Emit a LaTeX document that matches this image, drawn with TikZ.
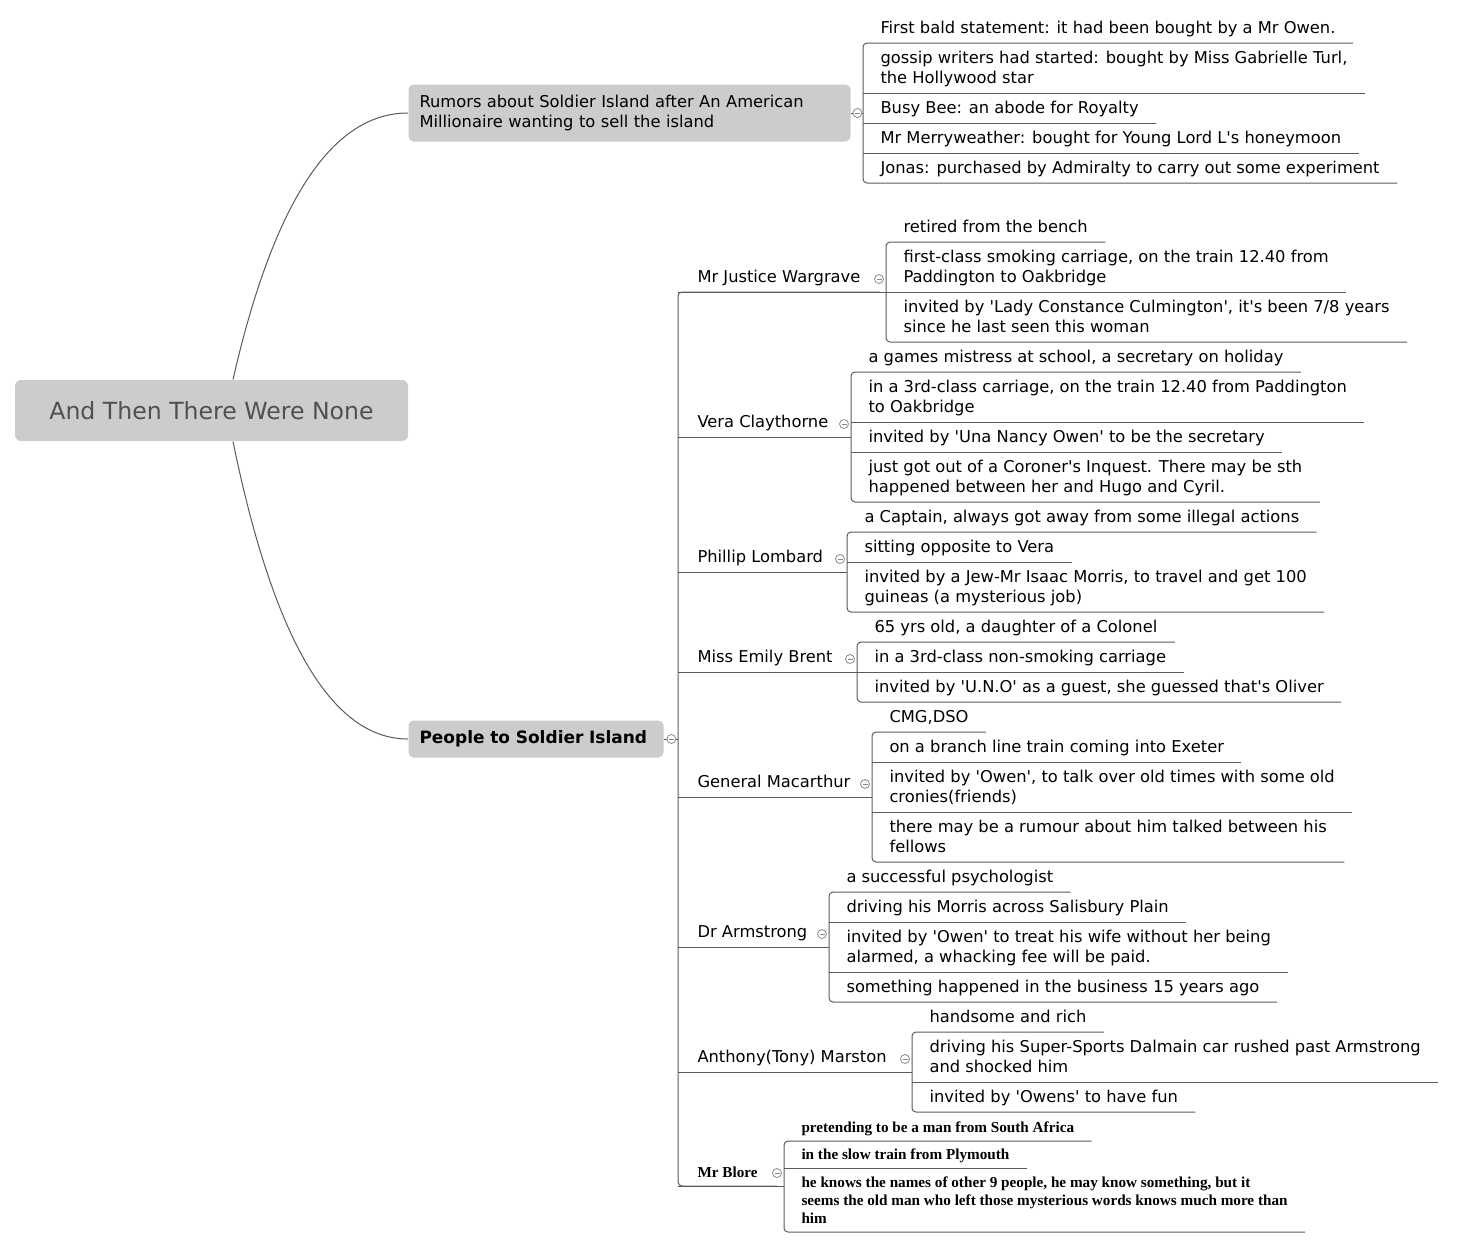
\documentclass[tikz,border=0pt]{standalone}
\usepackage{fontspec}
\newfontfamily\mapfont{DejaVu Sans}
\newfontfamily\blorefont{Liberation Serif}
\usetikzlibrary{positioning}
\definecolor{boxgray}{HTML}{CCCCCC}
\definecolor{linegray}{HTML}{5A5A5A}
\definecolor{togglegray}{HTML}{8A8A8A}
\definecolor{roottext}{HTML}{505050}
\newcommand\mapsize{\mapfont\fontsize{16.3}{20}\selectfont}

\begin{document}
\begin{tikzpicture}[x=1pt,y=-1pt,line width=1pt,
root/.style={fill=boxgray,rounded corners=6pt,text=roottext,minimum width=393pt,minimum height=61pt,
    font=\mapfont\fontsize{23.6}{28}\selectfont},
topic/.style={fill=boxgray,rounded corners=5pt,anchor=west,align=left,inner xsep=11pt,font=\mapsize},
sub/.style={anchor=south west,inner xsep=19pt,inner ysep=4pt,text depth=5.5pt,font=\mapsize},
item/.style={anchor=south west,align=left,inner xsep=17pt,inner ysep=4pt,text depth=5.5pt,font=\mapsize},
blore/.style={item,text depth=4.5pt,font=\blorefont\bfseries\fontsize{15.2}{18}\selectfont},
tog/.style={circle,draw=togglegray,fill=white,line width=0.8pt,minimum size=9pt,inner sep=0pt,
    path picture={\draw[togglegray,line width=0.8pt] ([xshift=2pt]path picture bounding box.west)
    -- ([xshift=-2pt]path picture bounding box.east);}},
link/.style={draw=linegray}]
\useasboundingbox (0,0) rectangle (1458,1248);

% central topic and main branches
\node (root) [root] at (211.5,410.5) {And Then There Were None};
\node (rum) [topic,text width=420pt,minimum height=57pt] at (408,113)
    {Rumors about Soldier Island after An American\\Millionaire wanting to sell the island};
\node (ppl) [topic,text width=233pt,minimum height=37pt,font=\mapfont\fontsize{17}{20}\selectfont\bfseries] at (408,739)
    {People to Soldier Island};
\node (rc) [tog,right=1.5pt of rum] {};
\node (pc) [tog,right=2.5pt of ppl] {};
\draw[link] ([xshift=21.5pt]root.north) .. controls +(40.7,-178) and +(-76,0) .. (rum.west);
\draw[link] ([xshift=21.5pt]root.south) .. controls +(40.7,198.7) and +(-76,0) .. (ppl.west);

% rumors
\node (ru1) [item] at (863,43) {First bald statement: it had been bought by a Mr Owen.};
\node (ru2) [item] at (863,93) {gossip writers had started: bought by Miss Gabrielle Turl,\\the Hollywood star};
\node (ru3) [item] at (863,123) {Busy Bee: an abode for Royalty};
\node (ru4) [item] at (863,153) {Mr Merryweather: bought for Young Lord L's honeymoon};
\node (ru5) [item] at (863,183) {Jonas: purchased by Admiralty to carry out some experiment};
\draw[link] (rum.east) -- (rc.west);
\draw[link] (rc.east) -- (rc.east -| ru1.south west);
\draw[link,rounded corners=4pt] (ru1.south east) -- (ru1.south west) -- (ru5.south west) -- (ru5.south east);
\draw[link] (ru2.south west) -- (ru2.south east);
\draw[link] (ru3.south west) -- (ru3.south east);
\draw[link] (ru4.south west) -- (ru4.south east);

% people
\node (wg) [sub] at (678,292) {Mr Justice Wargrave};
\node (vc) [sub] at (678,437) {Vera Claythorne};
\node (pl) [sub] at (678,572) {Phillip Lombard};
\node (eb) [sub] at (678,672) {Miss Emily Brent};
\node (gm) [sub] at (678,797) {General Macarthur};
\node (da) [sub] at (678,947) {Dr Armstrong};
\node (am) [sub] at (678,1072) {Anthony(Tony) Marston};
\node (bl) [sub,text depth=4.5pt,font=\blorefont\bfseries\fontsize{15.2}{18}\selectfont] at (678,1186) {Mr Blore};
\draw[link] (ppl.east) -- (pc.west);
\draw[link] (pc.east) -- (pc.east -| wg.south west);
\draw[link,rounded corners=4pt] (wg.south east) -- (wg.south west) -- (bl.south west) -- (bl.south east);

% Wargrave
\node (wg1) [item] at (886,242) {retired from the bench};
\node (wg2) [item] at (886,292) {first-class smoking carriage, on the train 12.40 from\\Paddington to Oakbridge};
\node (wg3) [item] at (886,342) {invited by 'Lady Constance Culmington', it's been 7/8 years\\since he last seen this woman};
\node (wgc) [tog] at (879,279) {};
\draw[link] (wg.south west) -- (wg.south west -| wg1.south west);
\draw[link,rounded corners=4pt] (wg1.south east) -- (wg1.south west) -- (wg3.south west) -- (wg3.south east);
\draw[link] (wg2.south west) -- (wg2.south east);

% Vera
\node (vc1) [item] at (851,372) {a games mistress at school, a secretary on holiday};
\node (vc2) [item] at (851,422) {in a 3rd-class carriage, on the train 12.40 from Paddington\\to Oakbridge};
\node (vc3) [item] at (851,452) {invited by 'Una Nancy Owen' to be the secretary};
\node (vc4) [item] at (851,502) {just got out of a Coroner's Inquest. There may be sth\\happened between her and Hugo and Cyril.};
\node (vcc) [tog] at (844,424) {};
\draw[link] (vc.south west) -- (vc.south west -| vc1.south west);
\draw[link,rounded corners=4pt] (vc1.south east) -- (vc1.south west) -- (vc4.south west) -- (vc4.south east);
\draw[link] (vc2.south west) -- (vc2.south east);
\draw[link] (vc3.south west) -- (vc3.south east);

% Lombard
\node (pl1) [item] at (847,532) {a Captain, always got away from some illegal actions};
\node (pl2) [item] at (847,562) {sitting opposite to Vera};
\node (pl3) [item] at (847,612) {invited by a Jew-Mr Isaac Morris, to travel and get 100\\guineas (a mysterious job)};
\node (plc) [tog] at (840,559) {};
\draw[link] (pl.south west) -- (pl.south west -| pl1.south west);
\draw[link,rounded corners=4pt] (pl1.south east) -- (pl1.south west) -- (pl3.south west) -- (pl3.south east);
\draw[link] (pl2.south west) -- (pl2.south east);

% Brent
\node (eb1) [item] at (857,642) {65 yrs old, a daughter of a Colonel};
\node (eb2) [item] at (857,672) {in a 3rd-class non-smoking carriage};
\node (eb3) [item] at (857,702) {invited by 'U.N.O' as a guest, she guessed that's Oliver};
\node (ebc) [tog] at (850,659) {};
\draw[link] (eb.south west) -- (eb.south west -| eb1.south west);
\draw[link,rounded corners=4pt] (eb1.south east) -- (eb1.south west) -- (eb3.south west) -- (eb3.south east);
\draw[link] (eb2.south west) -- (eb2.south east);

% Macarthur
\node (gm1) [item] at (872,732) {CMG,DSO};
\node (gm2) [item] at (872,762) {on a branch line train coming into Exeter};
\node (gm3) [item] at (872,812) {invited by 'Owen', to talk over old times with some old\\cronies(friends)};
\node (gm4) [item] at (872,862) {there may be a rumour about him talked between his\\fellows};
\node (gmc) [tog] at (865,784) {};
\draw[link] (gm.south west) -- (gm.south west -| gm1.south west);
\draw[link,rounded corners=4pt] (gm1.south east) -- (gm1.south west) -- (gm4.south west) -- (gm4.south east);
\draw[link] (gm2.south west) -- (gm2.south east);
\draw[link] (gm3.south west) -- (gm3.south east);

% Armstrong
\node (da1) [item] at (829,892) {a successful psychologist};
\node (da2) [item] at (829,922) {driving his Morris across Salisbury Plain};
\node (da3) [item] at (829,972) {invited by 'Owen' to treat his wife without her being\\alarmed, a whacking fee will be paid.};
\node (da4) [item] at (829,1002) {something happened in the business 15 years ago};
\node (dac) [tog] at (822,934) {};
\draw[link] (da.south west) -- (da.south west -| da1.south west);
\draw[link,rounded corners=4pt] (da1.south east) -- (da1.south west) -- (da4.south west) -- (da4.south east);
\draw[link] (da2.south west) -- (da2.south east);
\draw[link] (da3.south west) -- (da3.south east);

% Marston
\node (am1) [item] at (912,1032) {handsome and rich};
\node (am2) [item] at (912,1082) {driving his Super-Sports Dalmain car rushed past Armstrong\\and shocked him};
\node (am3) [item] at (912,1112) {invited by 'Owens' to have fun};
\node (amc) [tog] at (905,1059) {};
\draw[link] (am.south west) -- (am.south west -| am1.south west);
\draw[link,rounded corners=4pt] (am1.south east) -- (am1.south west) -- (am3.south west) -- (am3.south east);
\draw[link] (am2.south west) -- (am2.south east);

% Blore
\node (bl1) [blore] at (784,1141) {pretending to be a man from South Africa};
\node (bl2) [blore] at (784,1168) {in the slow train from Plymouth};
\node (bl3) [blore] at (784,1232) {he knows the names of other 9 people, he may know something, but it\\seems the old man who left those mysterious words knows much more than\\him};
\node (blc) [tog] at (777,1173) {};
\draw[link] (bl.south west) -- (bl.south west -| bl1.south west);
\draw[link,rounded corners=4pt] (bl1.south east) -- (bl1.south west) -- (bl3.south west) -- (bl3.south east);
\draw[link] (bl2.south west) -- (bl2.south east);
\end{tikzpicture}
\end{document}
